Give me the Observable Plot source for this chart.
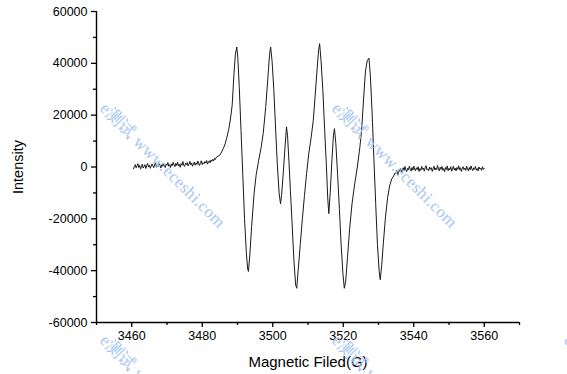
<!DOCTYPE html>
<html>
<head>
<meta charset="utf-8">
<script src="https://cdn.jsdelivr.net/npm/d3@7"></script>
<script src="https://cdn.jsdelivr.net/npm/@observablehq/plot@0.6"></script>
<style>
  html, body { margin: 0; padding: 0; background: #fff; }
  #wrap { position: relative; width: 567px; height: 374px; overflow: hidden; }
  .wm { position: absolute; font-family: "Liberation Serif", "DejaVu Serif", serif; font-size: 17px; line-height: 17px;
        color: #a6c6f2; white-space: nowrap; transform-origin: 0 50%; transform: rotate(45deg); pointer-events: none; letter-spacing: 0.4px; }
</style>
</head>
<body>
<div id="wrap"></div>
<script>
// ---- data ----
const leftField = [3460.5,3460.75,
  3461,3461.25,3461.5,3461.75, 3462,3462.25,3462.5,3462.75, 3463,3463.25,3463.5,3463.75, 3464,3464.25,3464.5,3464.75,
  3465,3465.25,3465.5,3465.75, 3466,3466.25,3466.5,3466.75, 3467,3467.25,3467.5,3467.75, 3468,3468.25,3468.5,3468.75,
  3469,3469.25,3469.5,3469.75, 3470,3470.25,3470.5,3470.75, 3471,3471.25,3471.5,3471.75, 3472,3472.25,3472.5,3472.75,
  3473,3473.25,3473.5,3473.75, 3474,3474.25,3474.5,3474.75, 3475,3475.25,3475.5,3475.75, 3476,3476.25,3476.5,3476.75,
  3477,3477.25,3477.5,3477.75, 3478,3478.25,3478.5,3478.75, 3479,3479.25,3479.5,3479.75, 3480,3480.25,3480.5,3480.75,
  3481,3481.25,3481.5,3481.75, 3482,3482.25,3482.5,3482.75, 3483,3483.25,3483.5,3483.75, 3484];
const leftIntensity = [-700,200,
  900,-300,400,1300, -200,600,-800,300, 1100,-400,200,900, -600,500,1400,0,
  700,-500,300,1200, 400,-300,1000,1600, -100,800,200,1300, 600,-400,900,300,
  1500,200,-200,1100, 700,1700,300,900, -200,1200,500,1800, 800,100,1400,600,
  1900,400,1000,-100, 1300,700,2100,600, 200,1400,900,1700, 400,1200,2200,800,
  1500,300,1100,1900, 700,1600,1000,2300, 1200,600,1800,2400, 900,1700,1300,2100,
  1500,2500,1100,1900, 2400,1600,2700,2200, 3000,2400,3400,2900, 3800];

const peakField = [3485.0,3485.5,3486.0,3486.5,3487.0,3487.5,3488.0,3488.5,3489.0,3489.4,3489.8,3490.1,3490.5,3491.0,3491.5,3492.0,3492.5,3492.9,3493.1,3493.5,3494.0,3494.7,3495.3,3496.0,3496.7,3497.3,3498.0,3498.6,3499.1,3499.4,3499.8,3500.3,3500.8,3501.3,3501.8,3502.2,3502.5,3503.0,3503.5,3503.9,3504.2,3504.6,3505.0,3505.5,3506.0,3506.5,3506.8,3507.2,3507.8,3508.4,3509.0,3509.6,3510.2,3510.9,3511.5,3512.0,3512.6,3513.0,3513.3,3513.7,3514.2,3514.7,3515.2,3515.6,3515.9,3516.3,3516.8,3517.2,3517.5,3517.9,3518.4,3518.9,3519.4,3519.9,3520.3,3520.7,3521.2,3521.8,3522.5,3523.3,3524.0,3524.7,3525.2,3525.8,3526.3,3526.8,3527.3,3527.7,3528.2,3528.7,3529.2,3529.7,3530.2,3530.5,3530.9,3531.4,3532.0,3532.6,3533.2,3533.8,3534.3,3534.7];
const peakIntensity = [4600,5800,7200,9000,11500,14500,18500,24000,36000,43500,46300,42000,31000,14000,-3000,-20000,-33000,-39500,-40300,-34000,-23000,-10300,-3000,2500,7500,13000,23000,34000,43500,46300,41000,30000,15000,1000,-10000,-14200,-11000,-2000,8000,15500,12000,2000,-9000,-22000,-36000,-45500,-46800,-40000,-30000,-20000,-11000,-2500,5000,11500,18000,27000,38000,45000,47600,41000,30000,15000,1000,-12000,-18000,-10000,3000,12000,14800,9000,-3000,-16000,-30000,-41000,-46800,-44000,-35000,-24000,-14000,-6000,0,7500,14000,27000,37000,41000,42000,35000,20600,3000,-14000,-30000,-40500,-43500,-38000,-29000,-19000,-11700,-7000,-4500,-3500,-2200];

const rightField = [
  3535,3535.25,3535.5,3535.75, 3536,3536.25,3536.5,3536.75, 3537,3537.25,3537.5,3537.75, 3538,3538.25,3538.5,3538.75,
  3539,3539.25,3539.5,3539.75, 3540,3540.25,3540.5,3540.75, 3541,3541.25,3541.5,3541.75, 3542,3542.25,3542.5,3542.75,
  3543,3543.25,3543.5,3543.75, 3544,3544.25,3544.5,3544.75, 3545,3545.25,3545.5,3545.75, 3546,3546.25,3546.5,3546.75,
  3547,3547.25,3547.5,3547.75, 3548,3548.25,3548.5,3548.75, 3549,3549.25,3549.5,3549.75, 3550,3550.25,3550.5,3550.75,
  3551,3551.25,3551.5,3551.75, 3552,3552.25,3552.5,3552.75, 3553,3553.25,3553.5,3553.75, 3554,3554.25,3554.5,3554.75,
  3555,3555.25,3555.5,3555.75, 3556,3556.25,3556.5,3556.75, 3557,3557.25,3557.5,3557.75, 3558,3558.25,3558.5,3558.75,
  3559,3559.25,3559.5,3559.75, 3560];
const rightIntensity = [
  -2500,-1200,-3000,-800, -1900,-400,-1500,-2200, -300,-1300,200,-1000, -1800,-500,-1100,300,
  -900,-1600,-200,-1200, 400,-800,-1500,-300, -1000,100,-1700,-600, -1300,200,-900,-400,
  -1600,-200,500,-1100, -700,-1400,0,-900, -300,-1700,-600,300, -1200,-400,-1000,600,
  -800,-1500,-100,-900, 200,-1300,-600,-1800, -200,-1000,400,-1400, -500,-1100,100,-1600,
  -700,300,-1200,-400, -1500,-200,-900,500, -1100,-300,-1700,-600, 100,-1000,-400,-1300,
  300,-800,-1500,-200, -1100,400,-700,-1400, -300,-900,200,-1200, -600,-1500,0,-800,
  -400,-1300,100,-900, -500];

const xMajor = [3460,3480,3500,3520,3540,3560];
const xMinor = [3450,3470,3490,3510,3530,3550,3570];
const yMajor = [-60000,-40000,-20000,0,20000,40000,60000];
const yMinor = [-50000,-30000,-10000,10000,30000,50000];
const xLabel = "Magnetic Filed(G)";
const yLabel = "Intensity";
const watermark = "e测试 www.eceshi.com";

const field = [...leftField, ...peakField, ...rightField];
const intensity = [...leftIntensity, ...peakIntensity, ...rightIntensity];
const spectrum = field.map((f, i) => ({field: f, intensity: intensity[i]}));

const chart = Plot.plot({
  width: 567, height: 374,
  marginLeft: 96, marginRight: 48, marginTop: 11, marginBottom: 52,
  style: {fontFamily: "'Liberation Sans', Arial, sans-serif", fontSize: "12.5px", color: "#000", background: "transparent", overflow: "visible"},
  x: {domain: [3450, 3570]},
  y: {domain: [-60000, 60000]},
  marks: [
    Plot.line(spectrum, {x: "field", y: "intensity", stroke: "#1a1a1a", strokeWidth: 1}),
    Plot.axisX(xMajor, {tickSize: 5, tickPadding: 4, strokeWidth: 1.3, tickFormat: d => String(d), label: null}),
    Plot.axisX(xMinor, {tickSize: 3, strokeWidth: 1.3, fill: "none", label: null}),
    Plot.axisY(yMajor, {tickSize: 5, tickPadding: 4, strokeWidth: 1.3, tickFormat: d => String(d), label: null}),
    Plot.axisY(yMinor, {tickSize: 3, strokeWidth: 1.3, fill: "none", label: null}),
    Plot.ruleX([3450], {y1: -60000, y2: 60000, stroke: "#000", strokeWidth: 1.4}),
    Plot.ruleY([-60000], {x1: 3450, x2: 3570, stroke: "#000", strokeWidth: 1.4}),
    Plot.text([xLabel], {frameAnchor: "bottom", dy: 40, textAnchor: "middle", lineAnchor: "middle", fontSize: 15, fill: "#000"}),
    Plot.text([yLabel], {frameAnchor: "left", dx: -78, rotate: -90, textAnchor: "middle", lineAnchor: "middle", fontSize: 14.5, fill: "#000"})
  ]
});
const wrap = document.getElementById("wrap");
wrap.append(chart);

const wmPos = [[103,105],[335,105],[103,337],[335,337],[567,337]];
for (const [x, y] of wmPos) {
  const s = document.createElement("div");
  s.className = "wm";
  s.textContent = watermark;
  s.style.left = x + "px";
  s.style.top = (y - 8) + "px";
  wrap.append(s);
}
</script>
</body>
</html>
